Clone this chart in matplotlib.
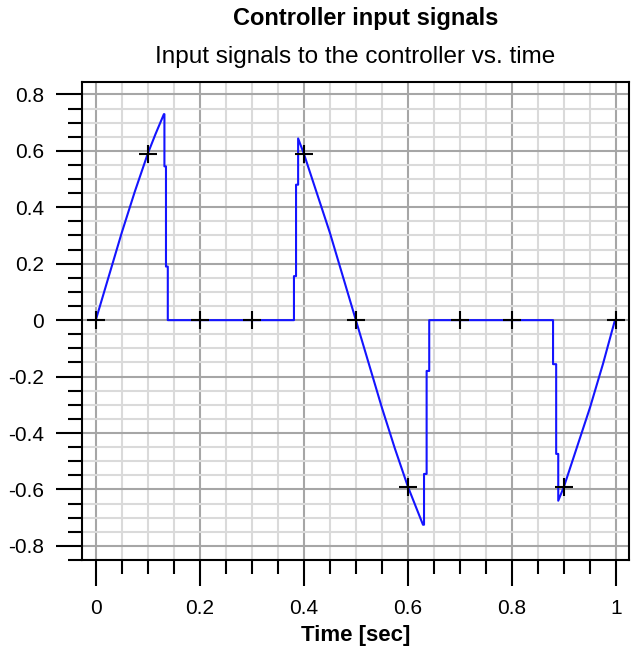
import numpy as np
import matplotlib
matplotlib.use("Agg")
import matplotlib.pyplot as plt
from matplotlib.ticker import MultipleLocator

plt.rcParams['font.family'] = ['Liberation Sans', 'DejaVu Sans']

# signal (breakpoints of the blue trace)
t_sig = [0.0, 0.025, 0.05, 0.075, 0.1, 0.115, 0.131,
         0.132, 0.132, 0.135, 0.135, 0.1385, 0.1385,
         0.381, 0.381, 0.385, 0.385, 0.389, 0.389,
         0.4, 0.425, 0.45, 0.475, 0.5, 0.525, 0.55, 0.575, 0.6, 0.615, 0.629,
         0.631, 0.631, 0.636, 0.636, 0.641, 0.641,
         0.879, 0.879, 0.885, 0.885, 0.889, 0.889,
         0.9, 0.925, 0.95, 0.975, 0.998]
y_sig = [0.0, 0.155, 0.31, 0.455, 0.59, 0.66, 0.73,
         0.73, 0.545, 0.545, 0.19, 0.19, 0.0,
         0.0, 0.156, 0.156, 0.48, 0.48, 0.644,
         0.59, 0.45, 0.31, 0.155, 0.0, -0.155, -0.31, -0.455, -0.59, -0.66, -0.725,
         -0.725, -0.545, -0.545, -0.18, -0.18, 0.0,
         0.0, -0.156, -0.156, -0.474, -0.474, -0.64,
         -0.59, -0.45, -0.31, -0.155, 0.0]

# sample markers
t_mark = [0.0, 0.1, 0.2, 0.3, 0.4, 0.5, 0.6, 0.7, 0.8, 0.9, 1.0]
y_mark = [0.0, 0.59, 0.0, 0.0, 0.59, 0.0, -0.59, 0.0, 0.0, -0.59, 0.0]

x_ticks = [0, 0.2, 0.4, 0.6, 0.8, 1.0]
x_labels = ['0', '0.2', '0.4', '0.6', '0.8', '1']
y_ticks = [0.8, 0.6, 0.4, 0.2, 0, -0.2, -0.4, -0.6, -0.8]
y_labels = ['0.8', '0.6', '0.4', '0.2', '0', '-0.2', '-0.4', '-0.6', '-0.8']

fig = plt.figure(figsize=(6.33, 6.51), dpi=100)
ax = fig.add_axes([81.7/633, 1 - 560/651, (629 - 81.7)/633, (560 - 81.7)/651])

ax.plot(t_sig, y_sig, color='#1414ff', lw=1.5, zorder=3)
ax.plot(t_mark, y_mark, ls='none', marker='+', ms=13, mew=1.5, color='black', zorder=4)

ax.set_xlim(-0.027, 1.025)
ax.set_ylim(-0.85, 0.845)
ax.xaxis.set_minor_locator(MultipleLocator(0.05))
ax.yaxis.set_minor_locator(MultipleLocator(0.05))
ax.set_xticks(x_ticks)
ax.set_xticklabels(x_labels)
ax.set_yticks(y_ticks)
ax.set_yticklabels(y_labels)

ax.grid(which='minor', color='#dadada', lw=1.5, zorder=0)
ax.grid(which='major', color='#a6a6a6', lw=1.5, zorder=1)
ax.set_axisbelow(True)

for s in ax.spines.values():
    s.set_linewidth(1.5)
ax.tick_params(which='major', direction='out', length=19, width=1.5, labelsize=15)
ax.tick_params(axis='x', which='major', pad=9)
ax.tick_params(axis='y', which='major', pad=8)
ax.tick_params(which='minor', direction='out', length=10, width=1.5)

ax.set_xlabel('Time [sec]', fontsize=16, fontweight='bold', labelpad=5)

fig.text(366/633, 1 - 18/651, 'Controller input signals', ha='center', va='center',
         fontsize=17, fontweight='bold')
fig.text(355/633, 1 - 57/651, 'Input signals to the controller vs. time', ha='center', va='center',
         fontsize=17.5)

fig.savefig('out.png', dpi=100)
